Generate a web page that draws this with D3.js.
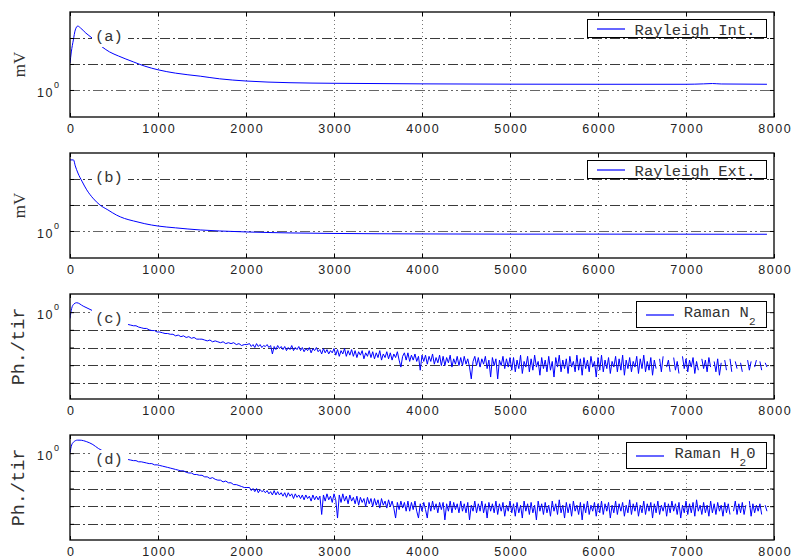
<!DOCTYPE html>
<html><head><meta charset="utf-8">
<script src="https://cdn.jsdelivr.net/npm/d3@7"></script>
<style>body{margin:0;background:#fff}svg{display:block}</style>
</head><body>
<svg id="chart" width="794" height="559"></svg>
<script>
// ---------- data ----------
const xTicks = [0,1000,2000,3000,4000,5000,6000,7000,8000];
const xTickLabels = ["0","1000","2000","3000","4000","5000","6000","7000","8000"];
const panelLabels = ["(a)","(b)","(c)","(d)"];
const yAxisLabels = ["mV","mV","Ph./tir","Ph./tir"];
const legendParts = [
  [{t:"Rayleigh Int."}],
  [{t:"Rayleigh Ext."}],
  [{t:"Raman N"},{t:"2",sub:true}],
  [{t:"Raman H"},{t:"2",sub:true},{t:"0"}]
];
const gridAB = [1, 1.5, 2.25];
const gridCD = [1, 0.7, 0.49, 0.343, 0.2401];
const domainAB = [0.656, 3.375];
const domainCD = [0.1733, 1.443];

const rayIntX = [0,15,38,60,88,120,180,250,300,364,450,550,720,850,1000,1200,1480,1700,2000,2500,3000,3500,4000,5000,6000,7000,7200,7300,7400,7920];
const rayIntV = [1.52,1.81,2.18,2.55,2.71,2.63,2.43,2.25,2.11,1.96,1.81,1.70,1.55,1.45,1.37,1.30,1.24,1.19,1.15,1.12,1.11,1.105,1.10,1.095,1.093,1.093,1.10,1.106,1.098,1.093];

const rayExtX = [0,40,60,90,140,190,260,340,430,530,620,720,850,1000,1200,1480,1700,2000,2500,3000,4000,5000,6000,7000,7920];
const rayExtV = [3.03,3.03,2.76,2.47,2.15,1.90,1.67,1.50,1.39,1.28,1.215,1.17,1.12,1.08,1.05,1.016,1.0,0.985,0.97,0.962,0.955,0.952,0.952,0.951,0.95];

const ramanN2EarlyX = [0,19,45,76,150,258,400,550,640];
const ramanN2EarlyV = [0.88,1.08,1.18,1.21,1.13,1.03,0.92,0.83,0.79];
const ramanH2OEarlyX = [0,19,45,83,114,190,260,322,450,560,640];
const ramanH2OEarlyV = [1.01,1.18,1.26,1.30,1.30,1.26,1.19,1.10,0.99,0.93,0.89];

// range bins: every 30 m from 660 to 2010, then every 20 m from 2040 to 7920
const nearBins = d3.range(660, 2011, 30);
const farBins = d3.range(2040, 7921, 20);

const ramanN2Near = [
 0.78,0.77,0.76,0.76,0.74,0.73,0.72,0.72,0.70,0.69,0.69,0.67,
 0.67,0.66,0.65,0.65,0.64,0.64,0.62,0.63,0.61,0.62,0.60,0.61,0.59,0.60,0.58,0.58,
 0.58,0.57,0.56,0.57,0.55,0.56,0.55,0.54,0.55,0.53,0.54,0.53,0.54,0.52,0.53,0.51,0.52,0.52
];
const ramanN2Far = [
 0.53,0.50,0.52,0.49,0.53,0.50,0.52,0.49,0.51,0.50,
 0.52,0.49,0.51,0.43,0.50,0.47,0.51,0.48,0.50,0.47,
 0.50,0.46,0.49,0.47,0.51,0.46,0.49,0.47,0.50,0.46,
 0.49,0.45,0.48,0.46,0.49,0.44,0.48,0.46,0.49,0.45,
 0.47,0.43,0.48,0.44,0.47,0.43,0.46,0.44,0.48,0.42,
 0.47,0.41,0.46,0.43,0.48,0.41,0.46,0.42,0.47,0.41,
 0.46,0.40,0.45,0.42,0.46,0.39,0.44,0.41,0.46,0.40,
 0.45,0.39,0.44,0.40,0.46,0.38,0.43,0.40,0.45,0.39,
 0.44,0.38,0.43,0.40,0.45,0.38,0.33,0.41,0.44,0.38,
 0.44,0.37,0.42,0.38,0.43,0.37,0.41,0.31,0.42,0.37,
 0.42,0.35,0.41,0.37,0.43,0.35,0.40,0.36,0.42,0.34,
 0.41,0.34,0.40,0.36,0.42,0.33,0.39,0.35,0.41,0.34,
 0.40,0.34,0.41,0.35,0.39,0.33,0.26,0.37,0.41,0.34,
 0.40,0.33,0.39,0.35,0.41,0.32,0.38,0.27,0.40,0.34,
 0.39,0.26,0.38,0.34,0.41,0.32,0.39,0.33,0.40,0.31,
 0.40,0.30,0.38,0.32,0.42,0.29,0.37,0.33,0.41,0.30,
 0.39,0.31,0.42,0.33,0.37,0.28,0.40,0.32,0.38,0.30,
 0.41,0.31,0.37,0.27,0.40,0.33,0.42,0.30,0.38,0.32,
 0.39,0.29,0.41,0.33,0.37,0.30,0.42,0.31,0.39,0.28,
 0.40,0.32,0.38,0.30,0.41,0.33,0.37,0.27,0.40,0.31,
 0.42,0.30,0.38,0.32,0.40,0.29,0.37,0.33,0.41,0.30,
 0.39,0.31,0.42,0.28,0.38,0.32,0.40,0.30,0.37,0.33,
 0.41,0.29,0.39,0.32,0.42,0.30,0.37,0.31,0.40,0.28,
 0.38,0.32,null,0.39,0.30,0.41,null,0.33,0.38,0.30,
 null,0.40,0.31,0.37,0.29,null,0.41,0.32,0.39,0.30,
 0.38,0.33,0.40,0.29,0.37,0.31,null,0.39,0.32,0.38,
 0.30,0.40,0.33,null,0.37,0.30,0.39,0.28,0.36,null,
 0.38,0.31,null,0.39,0.30,null,0.37,0.32,null,0.36,
 0.30,null,null,0.38,0.31,0.37,null,0.33,0.38,null,
 0.37,0.31,null,0.36,0.33
];

const ramanH2ONear = [
 0.88,0.87,0.86,0.86,0.84,0.84,0.83,0.82,0.81,0.81,0.79,0.79,
 0.78,0.77,0.76,0.75,0.74,0.73,0.72,0.71,0.70,0.70,0.68,0.67,0.67,0.65,0.65,0.64,
 0.64,0.62,0.62,0.60,0.61,0.59,0.58,0.58,0.56,0.57,0.55,0.55,0.53,0.53,0.52,0.51,0.50,0.50
];
const ramanH2OFar = [
 0.50,0.47,0.49,0.46,0.49,0.45,0.48,0.46,0.47,0.45,
 0.47,0.44,0.46,0.43,0.47,0.43,0.46,0.43,0.45,0.42,
 0.45,0.41,0.45,0.42,0.44,0.40,0.44,0.41,0.43,0.40,
 0.43,0.39,0.43,0.40,0.42,0.38,0.43,0.39,0.42,0.39,
 0.42,0.29,0.43,0.38,0.44,0.39,0.42,0.37,0.44,0.39,
 0.27,0.43,0.37,0.44,0.38,0.42,0.36,0.43,0.38,0.41,
 0.36,0.42,0.35,0.41,0.37,0.40,0.34,0.41,0.36,0.40,
 0.34,0.40,0.35,0.39,0.33,0.40,0.35,0.38,0.33,0.39,
 0.34,0.38,0.33,0.27,0.37,0.32,0.38,0.33,0.37,0.31,
 0.38,0.31,0.37,0.32,0.38,0.31,0.27,0.36,0.31,0.37,
 0.32,0.27,0.37,0.31,0.38,0.32,0.36,0.30,0.37,0.32,
 0.37,0.26,0.36,0.31,0.38,0.30,0.37,0.32,0.36,0.30,
 0.38,0.31,0.36,0.30,0.37,0.26,0.35,0.31,0.38,0.30,
 0.36,0.31,0.38,0.30,0.36,0.27,0.37,0.31,0.36,0.30,
 0.38,0.29,0.36,0.31,0.37,0.28,0.35,0.31,0.38,0.30,
 0.36,0.28,0.37,0.30,0.35,0.27,0.38,0.31,0.36,0.29,
 0.37,0.30,0.35,0.26,0.38,0.31,0.36,0.29,0.37,0.30,
 0.35,0.28,0.38,0.31,0.36,0.29,0.39,0.30,0.35,0.27,
 0.37,0.30,0.36,0.28,0.38,0.31,0.35,0.29,0.37,0.26,
 0.36,0.30,0.38,0.29,0.35,0.31,0.37,0.28,0.36,0.30,
 0.38,0.29,0.36,0.31,0.37,0.27,0.35,0.30,0.38,0.29,
 0.36,0.31,0.37,0.28,0.35,0.30,0.39,0.29,0.36,0.31,
 0.37,0.28,0.35,0.30,0.38,0.29,0.36,0.31,0.37,0.27,
 0.36,0.30,0.38,0.29,0.35,0.31,0.37,0.28,0.36,0.30,
 0.38,0.31,0.36,0.29,0.37,0.27,0.35,0.30,0.38,0.29,
 0.36,0.30,0.37,0.28,0.39,0.31,0.35,0.29,0.37,0.30,
 0.35,0.28,0.38,0.30,0.36,0.29,0.37,0.31,0.35,0.28,
 0.37,0.30,0.36,0.29,null,0.31,0.38,0.29,0.36,0.30,
 0.37,0.29,0.35,null,0.38,0.28,0.36,0.30,0.35,0.31,
 0.36,0.29,null,0.35,0.31
];

// ---------- layout ----------
const plotLeft = 70, plotRight = 774, plotH = 105;
const panelTops = [12, 153, 294, 435];
const BLUE = "#0000ff";
const MONO = "'Liberation Mono', 'DejaVu Sans Mono', monospace";
const SANS = "'Liberation Sans', Arial, sans-serif";

const svg = d3.select("#chart");
const x = d3.scaleLinear().domain([0, 8000]).range([plotLeft, plotRight]);

function zip(xs, vs) {
  const n = Math.min(xs.length, vs.length);
  const out = [];
  for (let i = 0; i < n; i++) out.push({x: xs[i], v: vs[i]});
  return out;
}
const bins = nearBins.concat(farBins);

const panels = [
  {domain: domainAB, grid: gridAB, series: [{d: zip(rayIntX, rayIntV), curve: d3.curveMonotoneX}], ylabFont: "'Liberation Serif', serif", ylabSize: 17, ylabX: 25},
  {domain: domainAB, grid: gridAB, series: [{d: zip(rayExtX, rayExtV), curve: d3.curveMonotoneX}], ylabFont: "'Liberation Serif', serif", ylabSize: 17, ylabX: 25},
  {domain: domainCD, grid: gridCD, series: [{d: zip(ramanN2EarlyX, ramanN2EarlyV), curve: d3.curveMonotoneX}, {d: zip(bins, ramanN2Near.concat(ramanN2Far)), curve: d3.curveLinear}], ylabFont: MONO, ylabSize: 18.5, ylabX: 24},
  {domain: domainCD, grid: gridCD, series: [{d: zip(ramanH2OEarlyX, ramanH2OEarlyV), curve: d3.curveMonotoneX}, {d: zip(bins, ramanH2ONear.concat(ramanH2OFar)), curve: d3.curveLinear}], ylabFont: MONO, ylabSize: 18.5, ylabX: 24}
];

panels.forEach((p, i) => {
  const top = panelTops[i], bottom = top + plotH;
  const y = d3.scaleLog().domain(p.domain).range([bottom, top]);
  const g = svg.append("g");

  svg.append("clipPath").attr("id", "clip" + i)
    .append("rect").attr("x", plotLeft).attr("y", top)
    .attr("width", plotRight - plotLeft).attr("height", plotH);

  // vertical dotted grid
  g.selectAll("line.vg").data(xTicks.filter(t => t > 0 && t < 8000)).join("line")
    .attr("class", "vg")
    .attr("x1", d => Math.round(x(d)) + 0.5).attr("x2", d => Math.round(x(d)) + 0.5)
    .attr("y1", top).attr("y2", bottom)
    .attr("stroke", "#777").attr("stroke-width", 1).attr("stroke-dasharray", "1,3");

  // horizontal dash-dot grid
  g.selectAll("line.hg").data(p.grid).join("line")
    .attr("class", "hg")
    .attr("x1", plotLeft).attr("x2", plotRight)
    .attr("y1", d => Math.round(y(d)) + 0.5).attr("y2", d => Math.round(y(d)) + 0.5)
    .attr("stroke", d => d === 1 ? "#666" : "#3a3a3a").attr("stroke-width", 1)
    .attr("stroke-dasharray", d => d === 1 ? "10,3,2,3,2,3" : "10,3,2,3");

  // data
  p.series.forEach(s => {
    g.append("path").datum(s.d)
      .attr("clip-path", `url(#clip${i})`)
      .attr("fill", "none").attr("stroke", BLUE).attr("stroke-width", 1)
      .attr("stroke-linejoin", "round")
      .attr("d", d3.line().defined(d => d.v != null && d.v > 0)
        .x(d => x(d.x)).y(d => y(d.v)).curve(s.curve));
  });

  // panel label with white background
  g.append("rect").attr("x", 92).attr("y", top + 15).attr("width", 36).attr("height", 20).attr("fill", "#fff");
  g.append("text").attr("x", 95).attr("y", top + 28.5)
    .attr("font-family", MONO).attr("font-size", 15.5).attr("fill", "#333")
    .text(panelLabels[i]);

  // axes
  const ax = g.append("g").attr("transform", `translate(0,${bottom})`)
    .call(d3.axisBottom(x).tickValues(xTicks).tickSize(-4).tickPadding(7)
      .tickFormat((d, k) => xTickLabels[k]));
  ax.select(".domain").remove();
  ax.attr("font-family", SANS).attr("font-size", 12.5);
  ax.selectAll("text").attr("fill", "#222").attr("letter-spacing", "1.6px").attr("dx", "0.8px");

  const axT = g.append("g").attr("transform", `translate(0,${top})`)
    .call(d3.axisTop(x).tickValues(xTicks).tickSize(-4).tickFormat(""));
  axT.select(".domain").remove();

  const ayL = g.append("g").attr("transform", `translate(${plotLeft},0)`)
    .call(d3.axisLeft(y).tickValues(p.grid).tickSize(-4).tickPadding(11)
      .tickFormat(d => d === 1 ? "10" : ""));
  ayL.select(".domain").remove();
  ayL.attr("font-family", SANS).attr("font-size", 12.5);
  ayL.selectAll("text").filter(d => d === 1)
    .attr("fill", "#222").attr("letter-spacing", "1.6px").attr("dy", "6.7px")
    .append("tspan").attr("dy", "-9.4px").attr("font-size", 9).attr("letter-spacing", "0px").text("0");

  const ayR = g.append("g").attr("transform", `translate(${plotRight},0)`)
    .call(d3.axisRight(y).tickValues(p.grid).tickSize(-4).tickFormat(""));
  ayR.select(".domain").remove();

  // frame
  g.append("rect").attr("x", plotLeft).attr("y", top)
    .attr("width", plotRight - plotLeft).attr("height", plotH)
    .attr("fill", "none").attr("stroke", "#000").attr("stroke-width", 1.3);

  // y axis label
  g.append("text")
    .attr("transform", `translate(${p.ylabX},${top + plotH / 2}) rotate(-90)`)
    .attr("text-anchor", "middle")
    .attr("font-family", p.ylabFont).attr("font-size", p.ylabSize).attr("fill", "#333")
    .text(yAxisLabels[i]);

  // legend
  const parts = legendParts[i];
  const hasSub = parts.some(q => q.sub);
  const lg = g.append("g");
  const boxTop = top + 7.5, boxH = hasSub ? 26 : 18;
  const boxRect = lg.append("rect").attr("fill", "#fff").attr("stroke", "#000").attr("stroke-width", 1);
  const txt = lg.append("text").attr("y", top + 22.5)
    .attr("font-family", MONO).attr("font-size", 15.5).attr("fill", "#333");
  let prevSub = false;
  parts.forEach(q => {
    const t = txt.append("tspan").text(q.t);
    if (q.sub) { t.attr("font-size", 11).attr("dy", 8); prevSub = true; }
    else if (prevSub) { t.attr("dy", -8); prevSub = false; }
  });
  const tw = txt.node().getComputedTextLength();
  const boxRight = plotRight - 7.5;
  const textX = boxRight - 11 - tw;
  txt.attr("x", textX);
  const lineX2 = Math.round(textX - 10), lineX1 = lineX2 - 28, boxLeft = Math.round(lineX1 - 10) + 0.5;
  boxRect.attr("x", boxLeft).attr("y", boxTop).attr("width", boxRight - boxLeft).attr("height", boxH);
  const ly = Math.round(boxTop + boxH / 2);
  lg.append("line").attr("x1", lineX1).attr("x2", lineX2)
    .attr("y1", ly).attr("y2", ly)
    .attr("stroke", BLUE).attr("stroke-width", 1.2);
});
</script>
</body></html>
